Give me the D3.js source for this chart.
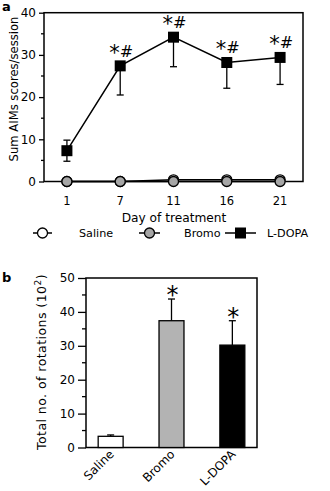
<!DOCTYPE html>
<html lang="en">
<head>
  <meta charset="UTF-8">
  <title>AIMs and rotations</title>
  <script src="https://d3js.org/d3.v7.min.js"></script>
  <style>
    body { margin: 0; background: #fff; }
    svg { display: block; }
    text { font-family: "DejaVu Sans", sans-serif; fill: #000; }
    .frame { fill: none; stroke: #000; stroke-width: 1.5; }
    .tick line { stroke: #000; stroke-width: 1.3; }
  </style>
</head>
<body>
<svg width="330" height="491"></svg>
<script>
// === Data: panel a ===
const days = ["1", "7", "11", "16", "21"];
const salineAims = [0, 0, 0.4, 0.4, 0.4];
const bromoAims = [0, 0, 0, 0, 0];
const ldopaAims = [7.3, 27.4, 34.2, 28.2, 29.4];
const ldopaSem = [2.5, 6.9, 7.0, 6.1, 6.4];
const aimsTicks = [0, 10, 20, 30, 40];

// === Data: panel b ===
const groups = ["Saline", "Bromo", "L-DOPA"];
const rotations = [3.3, 37.4, 30.2];
const rotationsSem = [0.4, 6.4, 7.2];
const rotationTicks = [0, 10, 20, 30, 40, 50];
const groupFill = ["#fff", "#b3b3b3", "#000"];

const svg = d3.select("svg");

// ================= Panel a =================
const ax = d3.scalePoint().domain(days).range([44, 303]).padding(0.43);
const ay = d3.scaleLinear().domain([0, 40]).range([181.5, 12.7]);

const ga = svg.append("g");

ga.append("text").text("a").attr("x", 2).attr("y", 11)
  .style("font-weight", "bold").style("font-size", "13px");

// minor ticks
ga.append("g").selectAll("line")
  .data(d3.range(5, 40, 10))
  .join("line")
  .attr("x1", 41).attr("x2", 44)
  .attr("y1", d => ay(d)).attr("y2", d => ay(d))
  .attr("stroke", "#000").attr("stroke-width", 1.3);

const ayAxis = ga.append("g")
  .attr("transform", "translate(44,0)")
  .call(d3.axisLeft(ay).tickValues(aimsTicks).tickSize(5).tickPadding(3));
ayAxis.select(".domain").remove();
ayAxis.selectAll("text").style("font-size", "12px");

ga.append("rect").attr("class", "frame")
  .attr("x", 44).attr("y", ay(40))
  .attr("width", 303 - 44).attr("height", ay(0) - ay(40));

// x labels (no tick marks)
ga.append("g").selectAll("text")
  .data(days)
  .join("text")
  .attr("x", d => ax(d)).attr("y", 205)
  .attr("text-anchor", "middle")
  .style("font-size", "11.5px")
  .text(d => d);

ga.append("text").attr("x", 174).attr("y", 222)
  .attr("text-anchor", "middle").style("font-size", "12.2px")
  .text("Day of treatment");

ga.append("text")
  .attr("transform", "translate(18,89) rotate(-90)")
  .attr("text-anchor", "middle").style("font-size", "11.6px")
  .text("Sum AIMs scores/session");

const lineGen = d3.line().x((d, i) => ax(days[i])).y(d => ay(d));

// saline
ga.append("path").datum(salineAims).attr("d", lineGen)
  .attr("fill", "none").attr("stroke", "#000").attr("stroke-width", 1.5);
ga.append("g").selectAll("circle").data(salineAims).join("circle")
  .attr("cx", (d, i) => ax(days[i])).attr("cy", d => ay(d)).attr("r", 5)
  .attr("fill", "#fff").attr("stroke", "#000").attr("stroke-width", 1.3);

// bromo
ga.append("path").datum(bromoAims).attr("d", lineGen)
  .attr("fill", "none").attr("stroke", "#000").attr("stroke-width", 1.5);
ga.append("g").selectAll("circle").data(bromoAims).join("circle")
  .attr("cx", (d, i) => ax(days[i])).attr("cy", d => ay(d)).attr("r", 5)
  .attr("fill", "#a6a6a6").attr("stroke", "#000").attr("stroke-width", 1.3);

// L-DOPA error bars (down for all, up only on day 1)
const eb = ga.append("g").attr("stroke", "#000").attr("stroke-width", 1.3);
ldopaAims.forEach((v, i) => {
  const x = ax(days[i]);
  const lo = ay(v - ldopaSem[i]);
  const hi = i === 0 ? ay(v + ldopaSem[i]) : ay(v);
  eb.append("line").attr("x1", x).attr("x2", x).attr("y1", hi).attr("y2", lo);
  eb.append("line").attr("x1", x - 3.5).attr("x2", x + 3.5).attr("y1", lo).attr("y2", lo);
  if (i === 0) eb.append("line").attr("x1", x - 3.5).attr("x2", x + 3.5).attr("y1", hi).attr("y2", hi);
});

ga.append("path").datum(ldopaAims).attr("d", lineGen)
  .attr("fill", "none").attr("stroke", "#000").attr("stroke-width", 1.5);
ga.append("g").selectAll("rect").data(ldopaAims).join("rect")
  .attr("x", (d, i) => ax(days[i]) - 5.5).attr("y", d => ay(d) - 5.5)
  .attr("width", 11).attr("height", 11).attr("fill", "#000");

// significance marks
const sig = ga.append("g").selectAll("text").data(ldopaAims.slice(1)).join("text")
  .attr("x", (d, i) => ax(days[i + 1]) + 1).attr("y", d => ay(d) - 9)
  .attr("text-anchor", "middle").style("font-size", "16px");
sig.append("tspan").style("font-size", "21px").attr("dy", 3).text("*");
sig.append("tspan").attr("dy", -3).text("#");

// legend
const legend = ga.append("g").attr("transform", "translate(0,233)");
const legendItems = [
  { name: "Saline", x0: 33, x1: 52, text: 79, shape: "circle", fill: "#fff" },
  { name: "Bromo", x0: 139, x1: 160, text: 184, shape: "circle", fill: "#a6a6a6" },
  { name: "L-DOPA", x0: 225, x1: 256, text: 267, shape: "square", fill: "#000" }
];
legendItems.forEach(it => {
  const cx = (it.x0 + it.x1) / 2;
  legend.append("line").attr("x1", it.x0).attr("x2", it.x1).attr("y1", 0).attr("y2", 0)
    .attr("stroke", "#000").attr("stroke-width", 1.5);
  if (it.shape === "circle") {
    legend.append("circle").attr("cx", cx).attr("cy", 0).attr("r", 5)
      .attr("fill", it.fill).attr("stroke", "#000").attr("stroke-width", 1.3);
  } else {
    legend.append("rect").attr("x", cx - 5.5).attr("y", -5.5).attr("width", 11).attr("height", 11)
      .attr("fill", it.fill);
  }
  legend.append("text").attr("x", it.text).attr("y", 4.2)
    .style("font-size", "11.2px").text(it.name);
});

// ================= Panel b =================
const bx = d3.scaleBand().domain(groups).range([86, 257]).paddingInner(0.59).paddingOuter(0.2);
const by = d3.scaleLinear().domain([0, 50]).range([447.5, 278]);

const gb = svg.append("g");

gb.append("text").text("b").attr("x", 2).attr("y", 282)
  .style("font-weight", "bold").style("font-size", "13px");

gb.append("g").selectAll("line")
  .data(d3.range(5, 50, 10))
  .join("line")
  .attr("x1", 82).attr("x2", 86)
  .attr("y1", d => by(d)).attr("y2", d => by(d))
  .attr("stroke", "#000").attr("stroke-width", 1.3);

const byAxis = gb.append("g")
  .attr("transform", "translate(86,0)")
  .call(d3.axisLeft(by).tickValues(rotationTicks).tickSize(8).tickPadding(3));
byAxis.select(".domain").remove();
byAxis.selectAll("text").style("font-size", "12px");

gb.append("rect").attr("class", "frame")
  .attr("x", 86).attr("y", by(50))
  .attr("width", 257 - 86).attr("height", by(0) - by(50));

const yLab = gb.append("text")
  .attr("transform", "translate(46,362) rotate(-90)")
  .attr("text-anchor", "middle").style("font-size", "12.5px")
  .style("letter-spacing", "0.45px");
yLab.append("tspan").text("Total no. of rotations (10");
yLab.append("tspan").attr("dy", -5).style("font-size", "9px").text("2");
yLab.append("tspan").attr("dy", 5).text(")");

// error bars
const ebb = gb.append("g").attr("stroke", "#000").attr("stroke-width", 1.3);
rotations.forEach((v, i) => {
  const x = bx(groups[i]) + bx.bandwidth() / 2;
  const top = by(v + rotationsSem[i]);
  ebb.append("line").attr("x1", x).attr("x2", x).attr("y1", by(v)).attr("y2", top);
  ebb.append("line").attr("x1", x - 3.5).attr("x2", x + 3.5).attr("y1", top).attr("y2", top);
});

gb.append("g").selectAll("rect").data(rotations).join("rect")
  .attr("x", (d, i) => bx(groups[i])).attr("y", d => by(d))
  .attr("width", bx.bandwidth()).attr("height", d => by(0) - by(d))
  .attr("fill", (d, i) => groupFill[i]).attr("stroke", "#000").attr("stroke-width", 1.3);

// stars
gb.append("g").selectAll("text").data(rotations.slice(1)).join("text")
  .attr("x", (d, i) => bx(groups[i + 1]) + bx.bandwidth() / 2 + 1)
  .attr("y", (d, i) => by(d + rotationsSem[i + 1]) + 4)
  .attr("text-anchor", "middle").style("font-size", "24px")
  .text("*");

// rotated category labels
gb.append("g").selectAll("text").data(groups).join("text")
  .attr("transform", d => `translate(${bx(d) + bx.bandwidth() / 2 + 4},${455}) rotate(-45)`)
  .attr("text-anchor", "end").style("font-size", "12px")
  .text(d => d);
</script>
</body>
</html>
